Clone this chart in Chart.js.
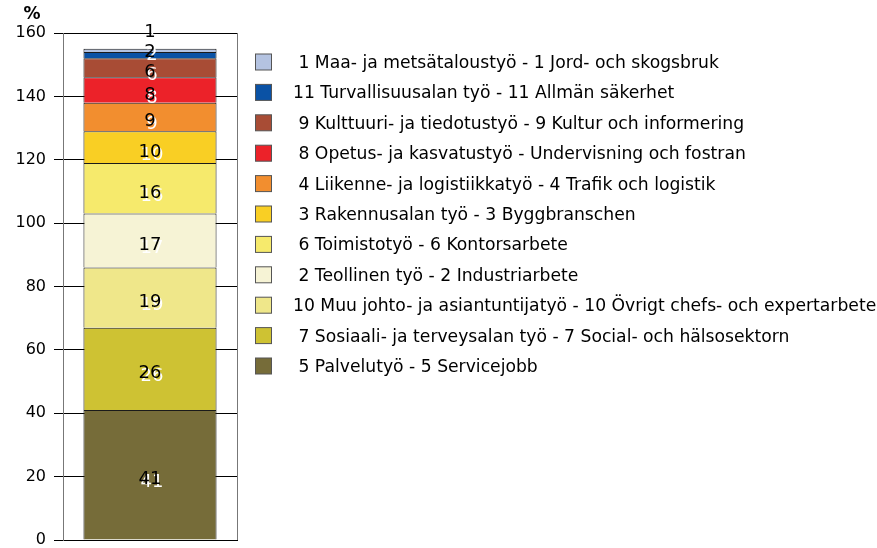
<!DOCTYPE html>
<html>
<head>
<meta charset="utf-8">
<script src="https://cdn.jsdelivr.net/npm/chart.js@4"></script>
<style>
  body { margin: 0; background: #fff; }
  canvas { display: block; }
</style>
</head>
<body>
<canvas id="grafico" width="877" height="548"></canvas>
<script>
// Dati: ordine dello stack dal basso verso l'alto
const categorie = [
    '5 Palvelutyö - 5 Servicejobb',
    '7 Sosiaali- ja terveysalan työ - 7 Social- och hälsosektorn',
    '10 Muu johto- ja asiantuntijatyö - 10 Övrigt chefs- och expertarbete',
    '2 Teollinen työ - 2 Industriarbete',
    '6 Toimistotyö - 6 Kontorsarbete',
    '3 Rakennusalan työ - 3 Byggbranschen',
    '4 Liikenne- ja logistiikkatyö - 4 Trafik och logistik',
    '8 Opetus- ja kasvatustyö - Undervisning och fostran',
    '9 Kulttuuri- ja tiedotustyö - 9 Kultur och informering',
    '11 Turvallisuusalan työ - 11 Allmän säkerhet',
    '1 Maa- ja metsätaloustyö - 1 Jord- och skogsbruk'
];
const valori = [41, 26, 19, 17, 16, 10, 9, 8, 6, 2, 1];
const colori = ['#766c39', '#cec233', '#efe78a', '#f6f3d5', '#f6ea6c', '#f9cf24',
                '#f28e2f', '#ec2229', '#a84c35', '#0a52a5', '#b4c3e1'];
const etichettaAsseY = '%';
const assiY = { min: 0, max: 160, passo: 20 };

const FONT = '"DejaVu Sans", Verdana, sans-serif';

// Etichette dei valori dentro la barra (nero con ombra bianca)
const pluginEtichette = {
    id: 'etichetteValori',
    afterDatasetsDraw: (chart) => {
        const ctx = chart.ctx;
        ctx.save();
        ctx.font = '18px ' + FONT;
        ctx.textAlign = 'center';
        ctx.textBaseline = 'alphabetic';
        let yPrecedente = Infinity;
        chart.data.datasets.forEach((ds, i) => {
            const el = chart.getDatasetMeta(i).data[0];
            let y = (el.y + el.base) / 2 + 3;
            // evita sovrapposizioni per i segmenti piccoli
            y = Math.min(y, yPrecedente - 20);
            yPrecedente = y;
            const base = y + 6.5; // centro delle cifre -> linea di base
            const testo = String(ds.data[0]);
            ctx.fillStyle = '#fff';
            ctx.fillText(testo, el.x + 2, base + 3);
            ctx.fillStyle = '#000';
            ctx.fillText(testo, el.x, base);
        });
        ctx.restore();
    }
};

// Legenda disegnata a mano a destra, dall'alto: ordine inverso dello stack
const pluginLegenda = {
    id: 'legendaDestra',
    afterDraw: (chart) => {
        const ctx = chart.ctx;
        ctx.save();
        ctx.font = '17.2px ' + FONT;
        ctx.textBaseline = 'alphabetic';
        ctx.textAlign = 'left';
        const n = categorie.length;
        for (let k = 0; k < n; k++) {
            const i = n - 1 - k;
            const yc = 62 + k * 30.4;
            ctx.fillStyle = colori[i];
            ctx.fillRect(255.5, yc - 8, 16, 16);
            ctx.strokeStyle = '#555';
            ctx.lineWidth = 1;
            ctx.strokeRect(255.5, yc - 8, 16, 16);
            let testo = categorie[i];
            if (testo.split(' ')[0].length === 1) testo = ' ' + testo;
            ctx.fillStyle = '#000';
            ctx.fillText(testo, 293, yc + 6);
        }
        // unità dell'asse Y
        ctx.font = 'bold 17px ' + FONT;
        ctx.textAlign = 'center';
        ctx.fillText(etichettaAsseY, 32, 19);
        ctx.restore();
    }
};

new Chart(document.getElementById('grafico'), {
    type: 'bar',
    data: {
        labels: [''],
        datasets: categorie.map((c, i) => ({
            label: c,
            data: [valori[i]],
            backgroundColor: colori[i],
            borderColor: '#1a1a1a',
            borderWidth: { top: 1, left: 1, right: 1, bottom: 0 },
            borderSkipped: false,
            barPercentage: 0.765,
            categoryPercentage: 1
        }))
    },
    options: {
        responsive: false,
        animation: false,
        layout: { padding: { left: 0, top: 33, right: 640, bottom: 8 } },
        plugins: {
            legend: { display: false },
            tooltip: { enabled: false }
        },
        scales: {
            x: {
                stacked: true,
                offset: true,
                grid: { offset: true, color: '#777', drawTicks: false },
                ticks: { display: false },
                border: { display: true, color: '#000' },
                afterFit: (scala) => { scala.height = 0; }
            },
            y: {
                stacked: true,
                min: assiY.min,
                max: assiY.max,
                ticks: { stepSize: assiY.passo, color: '#000', font: { family: FONT, size: 16, lineHeight: 1 }, padding: 8 },
                grid: { color: '#000', tickLength: 9, tickColor: '#000' },
                border: { color: '#777' },
                afterFit: (scala) => {
                    scala.width = 63;
                    scala.paddingTop = 0;
                    scala.paddingBottom = 0;
                }
            }
        }
    },
    plugins: [pluginEtichette, pluginLegenda]
});
</script>
</body>
</html>
